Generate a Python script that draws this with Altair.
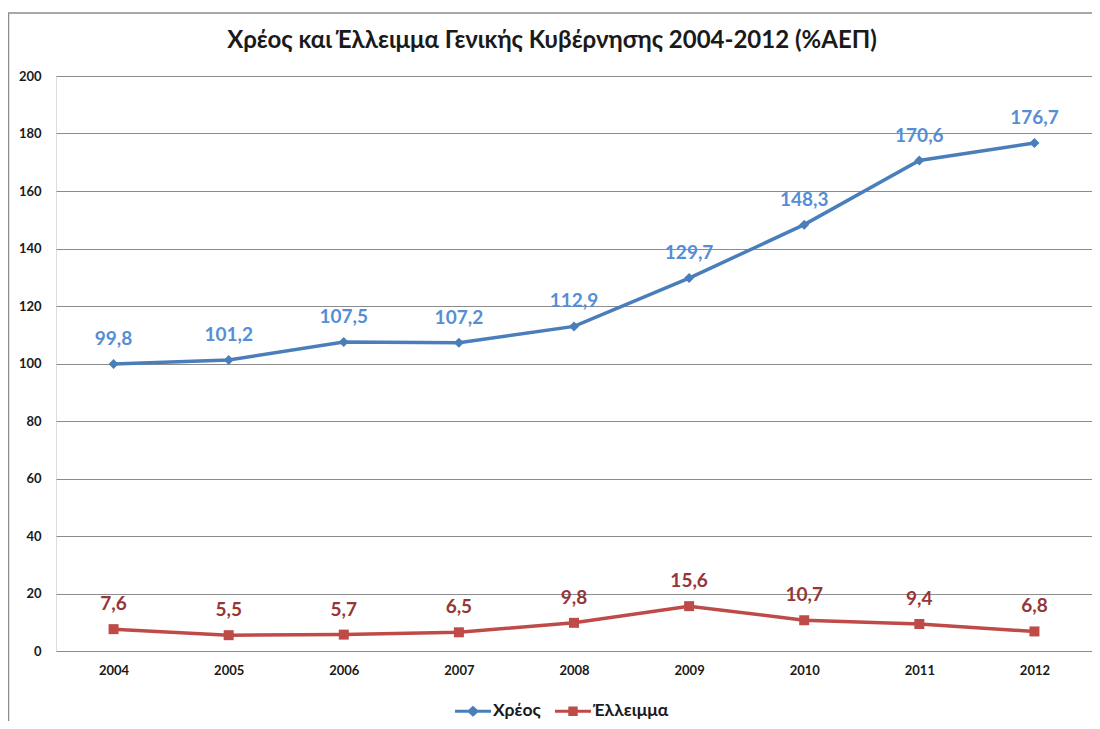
import altair as alt
import pandas as pd

years = ['2004', '2005', '2006', '2007', '2008', '2009', '2010', '2011', '2012']
debt = [99.8, 101.2, 107.5, 107.2, 112.9, 129.7, 148.3, 170.6, 176.7]
deficit = [7.6, 5.5, 5.7, 6.5, 9.8, 15.6, 10.7, 9.4, 6.8]
series_names = ['Χρέος', 'Έλλειμμα']
line_colors = ['#4A7EBB', '#BE4B48']
label_colors = ['#558ED5', '#953735']
y_ticks = [0, 20, 40, 60, 80, 100, 120, 140, 160, 180, 200]
title_text = 'Χρέος και Έλλειμμα Γενικής Κυβέρνησης 2004-2012 (%ΑΕΠ)'

rows = []
for name, vals in zip(series_names, [debt, deficit]):
    for yr, v in zip(years, vals):
        rows.append({'year': yr, 'value': v, 'series': name,
                     'label': f'{v:.1f}'.replace('.', ',')})
df = pd.DataFrame(rows)

FONT = 'Lato'

x = alt.X('year:N', sort=years,
          scale=alt.Scale(paddingInner=0, paddingOuter=0),
          axis=alt.Axis(title=None, labelAngle=0, domain=False, ticks=False, grid=False,
                        labelPadding=13, labelFontSize=13, labelFontWeight='bold',
                        labelColor='#1a1a1a', labelFont=FONT))
y = alt.Y('value:Q', scale=alt.Scale(domain=[0, 200], nice=False, zero=True),
          axis=alt.Axis(title=None, values=y_ticks, domain=False, ticks=False,
                        grid=True, gridColor='#8c8c8c', gridWidth=1,
                        labelPadding=15, labelFontSize=13, labelFontWeight='bold',
                        labelColor='#1a1a1a', labelFont=FONT))

line_color = alt.Color('series:N', scale=alt.Scale(domain=series_names, range=line_colors), legend=None)

base = alt.Chart(df)

lines = base.mark_line(strokeWidth=3.5).encode(x=x, y=y, color=line_color)

points = base.mark_point(filled=True, opacity=1, size=100).encode(
    x=x, y=y, color=line_color,
    shape=alt.Shape('series:N', scale=alt.Scale(domain=series_names, range=['diamond', 'square']), legend=None))

labels = base.mark_text(dy=-25, fontSize=19, fontWeight='bold', font=FONT).encode(
    x=x, y=y, text='label:N',
    color=alt.Color('series:N', scale=alt.Scale(domain=series_names, range=label_colors), legend=None))

diamond_line = ('M-1,-0.085L-0.25,-0.085L0,-0.3L0.25,-0.085L1,-0.085L1,0.085L0.25,0.085'
                'L0,0.3L-0.25,0.085L-1,0.085Z')
square_line = ('M-1,-0.085L-0.26,-0.085L-0.26,-0.26L0.26,-0.26L0.26,-0.085L1,-0.085L1,0.085'
               'L0.26,0.085L0.26,0.26L-0.26,0.26L-0.26,0.085L-1,0.085Z')

legend_layer = base.transform_filter('false').mark_point(filled=True, opacity=1, size=1296).encode(
    color=alt.Color('series:N', scale=alt.Scale(domain=series_names, range=line_colors),
                    legend=alt.Legend(title=None, orient='none', legendX=399, legendY=617,
                                      direction='horizontal', labelFontSize=17.5,
                                      labelFontWeight='bold', labelFont=FONT,
                                      labelColor='#1a1a1a', symbolSize=1296,
                                      symbolStrokeWidth=0, labelOffset=2, columnPadding=14)),
    shape=alt.Shape('series:N', scale=alt.Scale(domain=series_names, range=[diamond_line, square_line])))

border = alt.Chart(alt.Data(values=[{}])).mark_rect(fillOpacity=0, stroke='#8c8c8c', strokeWidth=1.5).encode(
    x=alt.value(-47.5), x2=alt.value(1100), y=alt.value(-63), y2=alt.value(800))

chart = alt.layer(border, lines, points, labels, legend_layer).resolve_scale(
    color='independent', shape='independent'
).properties(
    width=1036, height=575,
    title=alt.TitleParams(title_text, fontSize=24, font=FONT, fontWeight='bold',
                          color='#1a1a1a', anchor='middle', offset=-41, dx=-22),
    autosize=alt.AutoSizeParams(type='none'),
    padding={'left': 48, 'top': 68, 'right': 0, 'bottom': 70},
).configure_view(stroke=None).configure(background='white')

chart.save('out.html', embed_options={'renderer': 'svg', 'actions': False})
